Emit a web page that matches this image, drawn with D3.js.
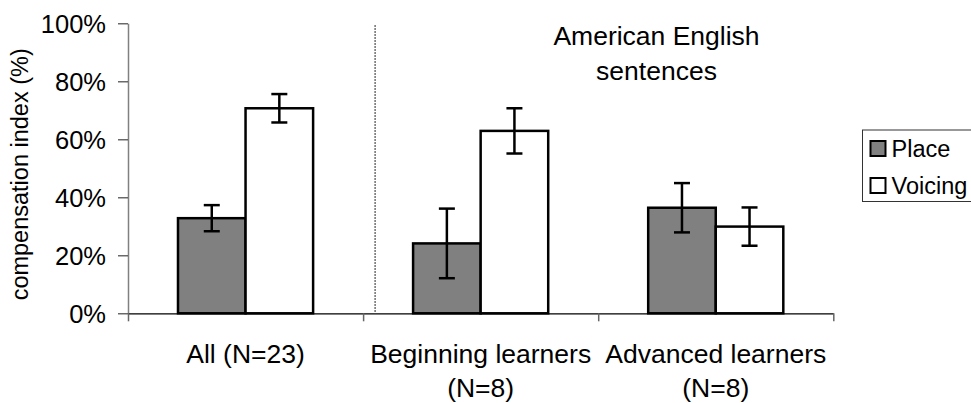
<!DOCTYPE html>
<html>
<head>
<meta charset="utf-8">
<script src="https://cdn.jsdelivr.net/npm/d3@7"></script>
<style>
  html, body { margin: 0; padding: 0; background: #ffffff; }
  svg { display: block; font-family: "Liberation Sans", Arial, sans-serif; }
</style>
</head>
<body>
<div id="main_output"></div>
<script>
// values (percent)
var categories = ["All (N=23)", "Beginning learners (N=8)", "Advanced learners (N=8)"];
var categoryLines = [["All (N=23)"], ["Beginning learners", "(N=8)"], ["Advanced learners", "(N=8)"]];
var series = ["Place", "Voicing"];
var place = [32.8, 24.1, 36.4];
var placeErr = [4.5, 12.0, 8.5];
var voicing = [70.7, 62.9, 29.9];
var voicingErr = [4.9, 7.8, 6.6];
var yTicks = [0, 20, 40, 60, 80, 100];
var titleLines = ["American English", "sentences"];
var yLabel = "compensation index (%)";

const placeColour = "#808080";
const voicingColour = "#ffffff";

var width = 971, height = 403;
const plot = {left: 128, right: 833.3, top: 23.3, bottom: 313.3};

var svg = d3.select("#main_output")
  .append("svg")
  .attr("width", width)
  .attr("height", height);

const x = d3.scaleBand().domain(categories).range([plot.left, plot.right]).padding(0),
      x1 = d3.scaleBand().domain(series).range([0, x.bandwidth()]).paddingInner(0).paddingOuter(0.74),
      xb = d3.scaleLinear().domain([0, categories.length]).range([plot.left, plot.right]),
      y = d3.scaleLinear().domain([0, 100]).range([plot.bottom, plot.top]);

var colour = d3.scaleOrdinal().domain(series).range([placeColour, voicingColour]);

// rows for bars
var rows = [];
categories.forEach(function(c, i) {
  rows.push({cat: c, key: "Place", v: place[i], e: placeErr[i]});
  rows.push({cat: c, key: "Voicing", v: voicing[i], e: voicingErr[i]});
});

// y axis
var yAxis = svg.append("g")
  .attr("transform", "translate(" + plot.left + ",0)")
  .call(d3.axisLeft(y).tickValues(yTicks).tickFormat(function(d) { return d + "%"; }).tickSize(10).tickSizeOuter(0).tickPadding(12));
yAxis.select(".domain").attr("stroke", "#808080").attr("stroke-width", 1.5);
yAxis.selectAll(".tick line").attr("stroke", "#444").attr("stroke-width", 1.2);
yAxis.selectAll(".tick text")
  .attr("font-size", "25.5px")
  .attr("font-family", "Liberation Sans, Arial, sans-serif")
  .attr("fill", "#000")
  .attr("dy", "0.36em");

// dotted separator between the groups
svg.append("line")
  .attr("x1", xb(1) + 12).attr("x2", xb(1) + 12)
  .attr("y1", y(100) + 2).attr("y2", y(0))
  .attr("stroke", "#222")
  .attr("stroke-width", 1.3)
  .attr("stroke-dasharray", "1.5,1.5");

// bars
svg.selectAll("rect.bar")
  .data(rows)
  .enter()
  .append("rect")
  .attr("class", "bar")
  .attr("x", function(d) { return x(d.cat) + x1(d.key); })
  .attr("y", function(d) { return y(d.v); })
  .attr("width", x1.bandwidth())
  .attr("height", function(d) { return y(0) - y(d.v); })
  .attr("fill", function(d) { return colour(d.key); })
  .attr("stroke", "#000")
  .attr("stroke-width", 2.5);

// error bars
var capHalf = 8;
var err = svg.selectAll("g.err")
  .data(rows)
  .enter()
  .append("g")
  .attr("class", "err")
  .attr("stroke", "#000")
  .attr("stroke-width", 2.5);
err.append("line")
  .attr("x1", function(d) { return x(d.cat) + x1(d.key) + x1.bandwidth() / 2; })
  .attr("x2", function(d) { return x(d.cat) + x1(d.key) + x1.bandwidth() / 2; })
  .attr("y1", function(d) { return y(d.v + d.e); })
  .attr("y2", function(d) { return y(d.v - d.e); });
[1, -1].forEach(function(s) {
  err.append("line")
    .attr("x1", function(d) { return x(d.cat) + x1(d.key) + x1.bandwidth() / 2 - capHalf; })
    .attr("x2", function(d) { return x(d.cat) + x1(d.key) + x1.bandwidth() / 2 + capHalf; })
    .attr("y1", function(d) { return y(d.v + s * d.e); })
    .attr("y2", function(d) { return y(d.v + s * d.e); });
});

// x axis: black line, grey ticks at the category boundaries
var xAxis = svg.append("g")
  .attr("transform", "translate(0," + plot.bottom + ")")
  .call(d3.axisBottom(xb).ticks(categories.length).tickSize(8).tickSizeOuter(0).tickFormat(""));
xAxis.select(".domain").attr("stroke", "#000").attr("stroke-width", 1.3);
xAxis.selectAll(".tick line").attr("stroke", "#666").attr("stroke-width", 1.5);

// category labels
var catText = svg.selectAll("text.cat")
  .data(categories)
  .enter()
  .append("text")
  .attr("class", "cat")
  .attr("text-anchor", "middle")
  .attr("font-size", "26.5px")
  .attr("fill", "#000")
  .attr("x", function(d) { return x(d) + x.bandwidth() / 2; })
  .attr("y", plot.bottom + 50);
catText.selectAll("tspan")
  .data(function(d, i) { return categoryLines[i]; })
  .enter()
  .append("tspan")
  .attr("x", function() { var p = d3.select(this.parentNode).datum(); return x(p) + x.bandwidth() / 2; })
  .attr("dy", function(d, i) { return i === 0 ? 0 : 34; })
  .text(function(d) { return d; });

// title inside the plot
svg.append("text")
  .attr("text-anchor", "middle")
  .attr("font-size", "26.5px")
  .attr("fill", "#000")
  .selectAll("tspan")
  .data(titleLines)
  .enter()
  .append("tspan")
  .attr("x", 656.5)
  .attr("y", function(d, i) { return 45 + i * 35; })
  .text(function(d) { return d; });

// y label
svg.append("text")
  .attr("transform", "translate(28," + ((plot.top + plot.bottom) / 2 + 6) + ") rotate(-90)")
  .attr("text-anchor", "middle")
  .attr("font-size", "23.5px")
  .attr("fill", "#000")
  .text(yLabel);

// legend
var legend = svg.append("g").attr("transform", "translate(862.5,130)");
legend.append("rect")
  .attr("width", 130)
  .attr("height", 71.5)
  .attr("fill", "#fff")
  .attr("stroke", "#333")
  .attr("stroke-width", 1);
var item = legend.selectAll("g.item")
  .data(series)
  .enter()
  .append("g")
  .attr("class", "item")
  .attr("transform", function(d, i) { return "translate(8," + (11 + i * 37) + ")"; });
item.append("rect")
  .attr("width", 15)
  .attr("height", 15)
  .attr("fill", function(d) { return colour(d); })
  .attr("stroke", "#000")
  .attr("stroke-width", 2);
item.append("text")
  .attr("x", 21)
  .attr("y", 16)
  .attr("font-size", "23.5px")
  .attr("fill", "#000")
  .text(function(d) { return d; });
</script>
</body>
</html>
